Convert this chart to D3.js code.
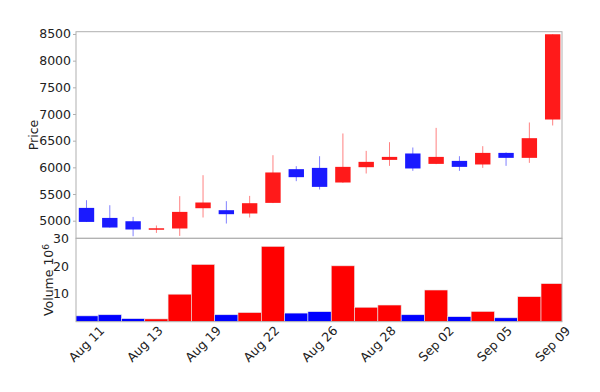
<!DOCTYPE html>
<html>
<head>
<meta charset="utf-8">
<script src="https://cdn.jsdelivr.net/npm/d3@7"></script>
<style>
  body { margin: 0; background: #fff; }
  text { font-family: "DejaVu Sans", sans-serif; fill: #222; }
</style>
</head>
<body>
<svg width="600" height="392"></svg>
<script>
// trading days, one candle each
var days = ['Aug 11','Aug 12','Aug 13','Aug 14','Aug 15','Aug 18','Aug 19','Aug 20','Aug 21','Aug 22',
            'Aug 25','Aug 26','Aug 27','Aug 28','Aug 29','Sep 02','Sep 03','Sep 04','Sep 05','Sep 08','Sep 09'];
var opens  = [5240,5052,4990,4835,4854,5234,5197,5135,5334,5966,5990,5716,6003,6140,6260,6065,6121,6054,6271,6178,6897];
var highs  = [5384,5290,5071,4910,5460,5853,5366,5465,6228,6022,6209,6635,6309,6472,6372,6740,6209,6397,6280,6841,8495];
var lows   = [4975,4870,4709,4771,4715,5060,4947,5060,5330,5741,5585,5710,5885,6028,5934,6060,5934,5990,6028,6084,6785];
var closes = [4977,4872,4835,4858,5165,5341,5122,5328,5904,5816,5634,6009,6103,6196,5979,6196,6009,6271,6178,6547,8495];
var volumes = [2.1,2.5,1.1,1.0,9.9,20.6,2.5,3.3,27.1,3.1,3.6,20.1,5.2,6.0,2.5,11.4,1.8,3.7,1.4,9.0,13.7]; // x 10^6

var tickPos = [0,2.5,5,7.5,10,12.5,15,17.5,20];
var tickLabels = ['Aug 11','Aug 13','Aug 19','Aug 22','Aug 26','Aug 28','Sep 02','Sep 05','Sep 09'];
var priceTicks = [5000,5500,6000,6500,7000,7500,8000,8500];
var volTicks = [10,20,30];

var svg = d3.select('svg');

var left = 76, right = 562;
var priceTop = 31.7, priceBottom = 238.3, volBottom = 321.7;

var upColor = '#ff1a1a', downColor = '#1a1aff';

var x = d3.scaleLinear().domain([-0.45, 20.4]).range([left, right]);
var y = d3.scaleLinear().domain([4670, 8543]).range([priceBottom, priceTop]);
var yv = d3.scaleLinear().domain([0, 30]).range([volBottom, priceBottom]);

var data = days.map(function(d, i) {
  return {day: d, i: i, open: opens[i], high: highs[i], low: lows[i], close: closes[i], vol: volumes[i]};
});

svg.append('clipPath').attr('id', 'clipP')
  .append('rect').attr('x', left).attr('y', priceTop).attr('width', right - left).attr('height', priceBottom - priceTop);
svg.append('clipPath').attr('id', 'clipV')
  .append('rect').attr('x', left).attr('y', priceBottom).attr('width', right - left).attr('height', volBottom - priceBottom);

// volume bars
svg.append('g').attr('clip-path', 'url(#clipV)')
  .selectAll('rect').data(data).enter().append('rect')
  .attr('x', function(d) { return x(d.i - 0.5); })
  .attr('width', x(1) - x(0))
  .attr('y', function(d) { return yv(d.vol); })
  .attr('height', function(d) { return yv(0) - yv(d.vol); })
  .attr('fill', function(d) { return d.close >= d.open ? '#ff0000' : '#0000ff'; })
  .attr('stroke', '#e8e8e8')
  .attr('stroke-width', 0.6);

// candles
var candles = svg.append('g').attr('clip-path', 'url(#clipP)')
  .selectAll('g').data(data).enter().append('g');

candles.append('line')
  .attr('x1', function(d) { return x(d.i); })
  .attr('x2', function(d) { return x(d.i); })
  .attr('y1', function(d) { return y(d.high); })
  .attr('y2', function(d) { return y(d.low); })
  .attr('stroke', function(d) { return d.close >= d.open ? upColor : downColor; })
  .attr('stroke-opacity', 0.55)
  .attr('stroke-width', 1);

var bw = (x(1) - x(0)) * 0.66;
candles.append('rect')
  .attr('x', function(d) { return x(d.i) - bw / 2; })
  .attr('width', bw)
  .attr('y', function(d) { return y(Math.max(d.open, d.close)); })
  .attr('height', function(d) { return Math.max(1.5, Math.abs(y(d.open) - y(d.close))); })
  .attr('fill', function(d) { return d.close >= d.open ? upColor : downColor; });

// frames
var frame = svg.append('g').attr('fill', 'none').attr('stroke', '#b0b0b0').attr('stroke-width', 1);
frame.append('rect').attr('x', left).attr('y', priceTop).attr('width', right - left).attr('height', priceBottom - priceTop);
frame.append('rect').attr('x', left).attr('y', priceBottom).attr('width', right - left).attr('height', volBottom - priceBottom);

// price axis
var pAxis = svg.append('g').attr('transform', 'translate(' + left + ',0)')
  .call(d3.axisLeft(y).tickValues(priceTicks).tickSize(3).tickPadding(2).tickFormat(d3.format('d')));
pAxis.select('.domain').remove();
pAxis.selectAll('line').attr('stroke', '#b0b0b0');
pAxis.selectAll('text').attr('font-size', 12.5).attr('fill', '#222').style('font-family', 'DejaVu Sans');

// volume axis
var vAxis = svg.append('g').attr('transform', 'translate(' + left + ',0)')
  .call(d3.axisLeft(yv).tickValues(volTicks).tickSize(0).tickPadding(7));
vAxis.select('.domain').remove();
vAxis.selectAll('text').attr('font-size', 12.5).attr('fill', '#222').style('font-family', 'DejaVu Sans');

// date labels
svg.append('g').selectAll('text').data(tickPos).enter().append('text')
  .attr('transform', function(d) { return 'translate(' + x(d) + ',344) rotate(-45)'; })
  .attr('text-anchor', 'middle')
  .attr('dy', '0.35em')
  .attr('font-size', 12.5)
  .text(function(d, k) { return tickLabels[k]; });

// axis titles
svg.append('text')
  .attr('transform', 'translate(38,' + (priceTop + priceBottom) / 2 + ') rotate(-90)')
  .attr('text-anchor', 'middle')
  .attr('font-size', 12.5)
  .text('Price');

var vt = svg.append('text')
  .attr('transform', 'translate(53,' + (priceBottom + volBottom) / 2 + ') rotate(-90)')
  .attr('text-anchor', 'middle')
  .attr('font-size', 12.5);
vt.append('tspan').text('Volume  10');
vt.append('tspan').attr('dy', '-0.45em').attr('font-size', 9).text('6');
</script>
</body>
</html>
